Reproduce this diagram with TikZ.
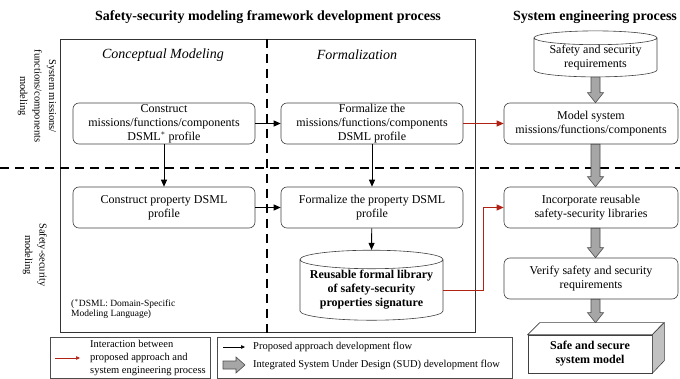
\documentclass[tikz,border=0pt]{standalone}
\usepackage{fontspec}
\setmainfont{Liberation Serif}
\usetikzlibrary{shapes, arrows.meta, calc}
\definecolor{flowred}{RGB}{178,34,20}
\definecolor{flowgray}{RGB}{166,166,166}
% fat grey arrow of the SUD flow, from #1 down to #2 (x taken from req)
\newcommand\DrawFatArrow[2]{
	\path [draw=black!70, fill=flowgray, line width=0.6pt]
		($(#1 -| req.center)+(-4.5,0)$) -- ($(#2 -| req.center)+(-4.5,-10)$)
		-- ($(#2 -| req.center)+(-8,-10)$) -- (#2 -| req.center)
		-- ($(#2 -| req.center)+(8,-10)$) -- ($(#2 -| req.center)+(4.5,-10)$)
		-- ($(#1 -| req.center)+(4.5,0)$) -- cycle;
}

\begin{document}
\begin{tikzpicture}[x=1pt, y=-1pt,
	every node/.style={font=\fontsize{12}{14}\selectfont, align=center},
	stepbox/.style={draw=black!75, line width=0.6pt, rounded corners=6pt, minimum width=182pt, minimum height=41pt, inner sep=0pt},
	sysbox/.style={stepbox, minimum width=174pt},
	store/.style={draw=black!75, line width=0.6pt, cylinder, shape border rotate=90, aspect=0.15, inner sep=0pt},
	flow/.style={-{Triangle[length=7pt,width=6pt]}, line width=0.9pt},
	link/.style={flow, color=flowred},
	divider/.style={line width=1.8pt, dash pattern=on 9pt off 6pt},
	heading/.style={font=\fontsize{14}{16}\selectfont\bfseries},
	phase/.style={font=\fontsize{14}{16}\selectfont\itshape},
	lane/.style={font=\fontsize{10.5}{14.5}\selectfont, rotate=-90},
	legend/.style={font=\fontsize{10.5}{13}\selectfont, align=left, anchor=west, inner sep=0pt}]
	\useasboundingbox (0,0) rectangle (680,379);

% frame and swimlanes
	\draw[line width=0.6pt, draw=black!80] (60,39) rectangle (475,332);
	\draw[divider] (0,168) -- (680,168);
	\draw[divider] (267,39) -- (267,333);

	\node[heading] (title_fw) at (268,17) {Safety-security modeling framework development process};
	\node[heading] (title_se) at (595,17) {System engineering process};
	\node[phase] (concept) at (163,55) {Conceptual Modeling};
	\node[phase] (formal) at (357,55) {Formalization};
	\node[lane] (lane_sys) at (37,96) {System missions/\\functions/components\\modeling};
	\node[lane] (lane_sec) at (35,255) {Safety-security\\modeling};

% framework steps
	\node[stepbox] (b1) at (164,123.5) {Construct\\missions/functions/components\\DSML$^{*}$ profile};
	\node[stepbox] (b2) at (372,123.5) {Formalize the\\missions/functions/components\\DSML profile};
	\node[stepbox] (b4) at (164,207.5) {Construct property DSML\\profile};
	\node[stepbox] (b5) at (372,207.5) {Formalize the property DSML\\profile};
	\node[store, minimum width=143pt, minimum height=70pt, font=\fontsize{12}{14}\selectfont\bfseries] (lib) at (371.5,290) {Reusable formal library\\of safety-security\\properties signature};
	\node[font=\fontsize{9.5}{10.5}\selectfont, align=left, anchor=west, inner sep=0pt] (note) at (71,309) {($^{*}$DSML: Domain-Specific\\Modeling Language)};

% system engineering steps
	\node[store, minimum width=123pt, minimum height=37pt] (req) at (595.5,57.5) {Safety and security\\requirements};
	\node[sysbox] (b3) at (591,123.5) {Model system\\missions/functions/components};
	\node[sysbox] (b6) at (591,207.5) {Incorporate reusable\\safety-security libraries};
	\node[sysbox] (b7) at (591,278.5) {Verify safety and security\\requirements};
	\node[draw=black!75, line width=0.6pt, minimum width=124pt, minimum height=38pt, inner sep=0pt, font=\fontsize{12}{14}\selectfont\bfseries] (model) at (590,354) {Safe and secure\\system model};
	\draw[line width=0.6pt, draw=black!75, fill=white] (model.north west) -- ++(12,-12) -- ++(124,0) -- (model.north east) -- cycle;
	\draw[line width=0.6pt, draw=black!75, fill=flowgray!70] (model.north east) -- ++(12,-12) -- ++(0,38) -- (model.south east) -- cycle;
	\coordinate (modeltop) at ($(model.north)+(6,-12)$);

% proposed approach flow
	\draw[flow] (b1) -- (b2);
	\draw[flow] (b1) -- (b4);
	\draw[flow] (b4) -- (b5);
	\draw[flow] (b2) -- (b5);
	\draw[flow] (b5) -- (lib.north);

% interaction
	\draw[link] (b2) -- (b3);
	\draw[link] (lib.east) -- ++(40,0) |- (b6.west);

% SUD flow
	\DrawFatArrow{req.south}{b3.north}
	\DrawFatArrow{b3.south}{b6.north}
	\DrawFatArrow{b6.south}{b7.north}
	\DrawFatArrow{b7.south}{modeltop}

% legend
	\draw[line width=0.6pt, draw=black!70] (50,337) rectangle (210,378);
	\draw[line width=0.6pt, draw=black!70] (217,337) rectangle (512,378);
	\coordinate (key_red_a) at (55,358);
	\coordinate (key_red_b) at (80,358);
	\draw[link, line width=0.6pt, -{Triangle[length=4pt,width=3.5pt]}] (key_red_a) -- (key_red_b);
	\node[legend] (key_red) at (90,358) {Interaction between\\proposed approach and\\system engineering process};
	\coordinate (key_flow_a) at (223,347);
	\coordinate (key_flow_b) at (245,347);
	\draw[line width=0.6pt, -{Triangle[length=4pt,width=3.5pt]}] (key_flow_a) -- (key_flow_b);
	\node[legend] (key_flow) at (253,347) {Proposed approach development flow};
	\coordinate (key_sud) at (223,365);
	\path[draw=black!70, fill=flowgray, line width=0.6pt] ($(key_sud)+(0,-4)$) -- ++(13,0) -- ++(0,-4) -- ++(9,8) -- ++(-9,8) -- ++(0,-4) -- ++(-13,0) -- cycle;
	\node[legend] (key_sud_text) at (253,365) {Integrated System Under Design (SUD) development flow};
	\end{tikzpicture}
\end{document}
